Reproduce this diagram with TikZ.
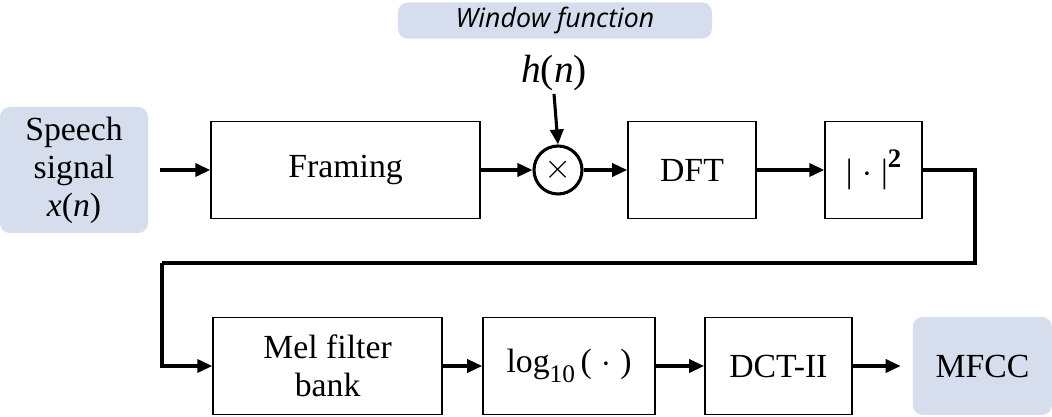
\documentclass[tikz,border=0pt]{standalone}
\usepackage{fontspec}
\setmainfont{Liberation Serif}
\newfontfamily\winfont{Open Sans}
\usetikzlibrary{arrows.meta}
\definecolor{labelblue}{RGB}{214,222,238}

\begin{document}
\begin{tikzpicture}[
  block/.style={draw, line width=1.2pt, minimum height=2.425cm, font=\fontsize{24}{27}\selectfont, align=center},
  tag/.style={fill=labelblue, rounded corners=7pt, font=\fontsize{24}{27}\selectfont, align=center},
  flow/.style={line width=2.2pt, -{Triangle[length=0.375cm, width=0.33cm]}},
  wire/.style={line width=2.2pt}
]
\useasboundingbox (0,0) rectangle (26.3,10.425);

\node[tag, minimum width=3.7cm, minimum height=3.15cm] (speech) at (1.85,6.175) {Speech\\signal\\\textit{x}(\textit{n})};
\node[block, minimum width=6.725cm] (framing) at (8.64,6.175) {Framing};
\node[draw, circle, line width=2.2pt, minimum size=1.2cm, inner sep=0pt, font=\fontsize{26}{26}\selectfont] (mult) at (13.95,6.175) {$\times$};
\node[block, minimum width=2.425cm] (sq) at (21.84,6.175) {|\;$\cdot$\;|\raisebox{0.45em}{\fontsize{19}{19}\selectfont\textbf{2}}};
\node[block, minimum width=3.2cm] (dft) at (17.3,6.175) {DFT};

\node[tag, minimum width=7.85cm, minimum height=0.875cm, font=\winfont\itshape\fontsize{19}{19}\selectfont] (win) at (13.875,9.91) {Window function};
\node[inner sep=2pt, font=\fontsize{28}{30}\selectfont] (hn) at (13.85,8.6) {\textit{h}(\textit{n})};

\node[block, minimum width=5.725cm] (mel) at (8.19,1.275) {Mel filter\\bank};
\node[block, minimum width=4.3cm] (log) at (14.225,1.275) {log\raisebox{-0.3em}{\fontsize{18}{18}\selectfont 10}\,(\;$\cdot$\;)};
\node[block, minimum width=3.675cm] (dct) at (19.46,1.275) {DCT-II};
\node[tag, minimum width=3.475cm, minimum height=2.45cm] (mfcc) at (24.56,1.275) {MFCC};

\coordinate (turnR) at (24.375,3.85);
\coordinate (turnL) at (4.05,3.85);

\draw[flow] ([xshift=0.3cm]speech.east) -- (framing.west);
\draw[flow] (framing.east) -- (mult.west);
\draw[flow] (hn.south) -- (mult.north);
\draw[flow] (mult.east) -- (dft.west);
\draw[flow] (dft.east) -- (sq.west);
\draw[wire] (sq.east) -| (turnR) -- (turnL);
\draw[flow] (turnL) |- (mel.west);
\draw[flow] (mel.east) -- (log.west);
\draw[flow] (log.east) -- (dct.west);
\draw[flow, shorten >=0.3cm] (dct.east) -- (mfcc.west);
\end{tikzpicture}
\end{document}
